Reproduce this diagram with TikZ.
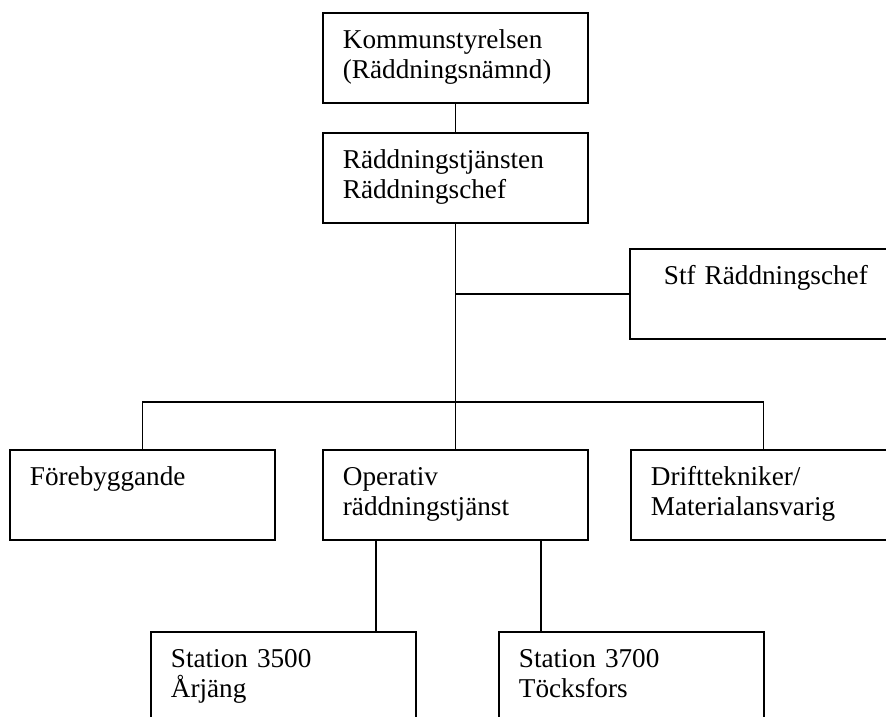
\documentclass[tikz,border=0pt]{standalone}
\usepackage{fontspec}
\setmainfont{Liberation Serif}

\tikzset{
  orgbox/.style={draw=black, line width=1.8pt, anchor=north west, inner xsep=20pt, inner ysep=0pt,
    text width=225pt, align=left, text height=36pt, text depth=54pt,
    font=\fontsize{27.2}{30}\selectfont},
  orgline/.style={draw=black, line width=1.8pt}
}

\begin{document}
\begin{tikzpicture}[x=1pt, y=-1pt]
\useasboundingbox (0,0) rectangle (886,716);
\clip (0,0) rectangle (886,716);
% boxes
\node[orgbox] (kom) at (322,12) {Kommunstyrelsen\\(Räddningsnämnd)};
\node[orgbox] (chef) at (322,132) {Räddningstjänsten\\Räddningschef};
\node[orgbox] (stf) at (629,248) {\hspace*{14pt}\mbox{Stf Räddningschef}};
\node[orgbox] (fore) at (9,449) {Förebyggande};
\node[orgbox] (ops) at (322,449) {Operativ\\räddningstjänst};
\node[orgbox] (drift) at (630,449) {Drifttekniker/\\Materialansvarig};
\node[orgbox] (st1) at (150,631) {Station 3500\\Årjäng};
\node[orgbox] (st2) at (498,631) {Station 3700\\Töcksfors};
% lines
\coordinate (bus) at (455,402);
\coordinate (opsL) at ([xshift=54pt]ops.south west);
\coordinate (opsR) at ([xshift=-48pt]ops.south east);
\draw[orgline] (kom.south) -- (chef.north);
\draw[orgline] (chef.south) -- (ops.north);
\draw[orgline] (stf.west) -- (stf.west -| chef.south);
\draw[orgline] (fore.north) |- (bus) -| (drift.north);
\draw[orgline] (opsL) -- (opsL |- st1.north);
\draw[orgline] (opsR) -- (opsR |- st2.north);
\end{tikzpicture}
\end{document}
